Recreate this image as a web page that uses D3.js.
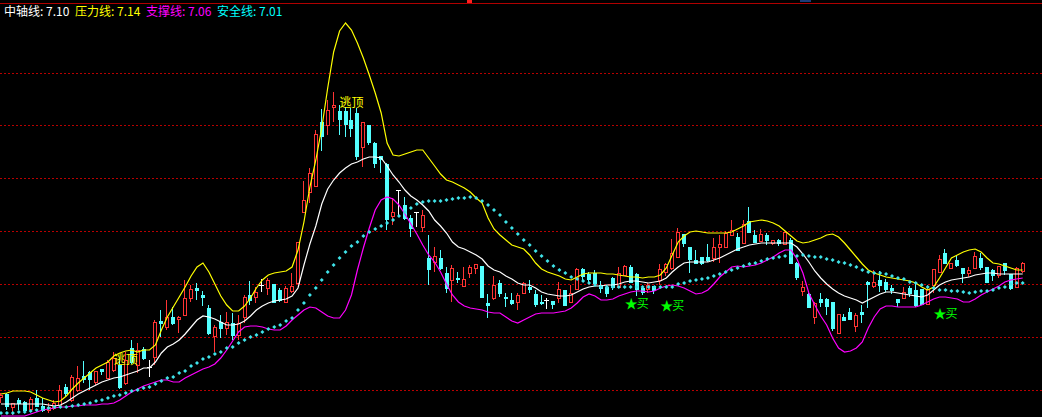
<!DOCTYPE html>
<html><head><meta charset="utf-8">
<script src="https://cdn.jsdelivr.net/npm/d3@7"></script>
<style>html,body{margin:0;padding:0;background:#000;overflow:hidden}</style>
</head><body><svg id="c" width="1042" height="417"></svg>
<script>
// ---------- data (prices) ----------
const open = [
5.87,5.90,5.77,5.84,5.82,5.75,5.86,5.78,5.74,5.76,
5.79,5.97,5.84,5.94,6.08,6.12,6.02,6.15,6.06,6.14,
6.19,6.01,6.36,6.19,6.35,6.17,6.27,6.63,6.57,6.67,
6.65,6.69,6.86,6.96,6.89,6.76,6.48,6.62,6.56,6.61,
6.49,6.67,6.89,6.87,6.99,6.96,7.00,6.94,6.82,6.93,
7.01,7.72,7.92,7.98,8.62,8.59,8.77,8.73,8.73,8.64,
8.71,8.37,8.59,8.41,8.28,8.20,7.68,7.94,7.79,7.66,
7.72,7.57,7.26,7.22,7.26,7.11,7.04,7.06,6.98,7.11,
7.16,7.18,6.81,6.86,7.01,6.87,6.84,6.82,6.91,6.97,
6.90,6.82,6.84,6.83,6.86,6.94,6.82,6.95,7.15,7.10,
7.11,6.99,6.97,7.06,6.97,7.09,7.17,7.10,6.96,6.95,
6.98,7.04,7.12,7.16,7.27,7.50,7.37,7.24,7.27,7.27,
7.26,7.37,7.37,7.49,7.47,7.41,7.63,7.49,7.43,7.49,
7.41,7.44,7.40,7.44,7.21,6.93,6.90,6.67,6.85,6.85,
6.82,6.51,6.67,6.72,6.58,6.72,7.02,6.98,7.04,7.02,
6.96,6.85,6.86,6.96,6.94,6.95,6.80,6.99,7.12,7.31,
7.16,7.24,7.16,7.11,7.16,7.26,7.17,7.14,7.09,7.21,
7.10,6.97,7.13];
const high = [
5.91,5.91,5.81,5.86,5.83,5.87,5.94,5.86,5.81,5.84,
5.99,6.00,6.09,6.18,6.23,6.13,6.13,6.15,6.24,6.32,
6.27,6.32,6.44,6.41,6.37,6.24,6.64,6.74,6.84,6.77,
6.68,7.04,6.99,7.01,6.93,6.79,6.59,6.69,6.72,6.71,
6.69,6.89,7.03,6.97,7.05,7.06,7.00,6.96,6.98,7.11,
7.42,8.03,8.16,8.54,8.75,8.84,8.92,8.79,8.77,8.76,
8.76,8.62,8.59,8.42,8.28,8.21,7.86,7.94,7.87,7.69,
7.72,7.74,7.49,7.37,7.34,7.17,7.19,7.12,7.17,7.19,
7.20,7.18,6.90,7.08,7.04,6.91,6.91,6.91,7.02,7.04,
6.94,6.89,6.86,6.83,7.02,6.94,6.99,7.16,7.16,7.12,
7.14,7.03,6.99,7.07,7.17,7.19,7.19,7.11,6.98,7.01,
6.98,7.20,7.21,7.45,7.56,7.50,7.37,7.34,7.27,7.40,
7.46,7.49,7.53,7.64,7.51,7.64,7.77,7.54,7.55,7.51,
7.44,7.45,7.52,7.46,7.22,7.03,6.91,6.82,6.91,6.86,
6.82,6.70,6.70,6.76,6.71,6.79,7.03,7.14,7.13,7.05,
6.99,6.85,6.97,6.98,7.02,6.95,6.99,7.15,7.29,7.35,
7.21,7.28,7.16,7.17,7.32,7.31,7.17,7.15,7.18,7.21,
7.10,7.17,7.22];
const low = [
5.81,5.74,5.69,5.74,5.71,5.74,5.77,5.72,5.71,5.74,
5.78,5.87,5.82,5.92,6.01,5.94,5.99,6.09,6.06,6.12,
5.95,5.99,6.20,6.11,6.24,6.07,6.19,6.47,6.54,6.59,
6.51,6.68,6.82,6.84,6.78,6.49,6.32,6.46,6.49,6.44,
6.44,6.61,6.79,6.81,6.92,6.89,6.81,6.82,6.81,6.91,
7.00,7.71,7.81,7.97,8.33,8.49,8.62,8.49,8.47,8.47,
8.24,8.17,8.39,8.16,8.11,7.54,7.59,7.67,7.64,7.47,
7.57,7.52,6.99,7.12,7.14,6.91,6.82,7.01,6.97,7.06,
7.10,6.86,6.66,6.84,6.87,6.77,6.79,6.74,6.91,6.91,
6.77,6.79,6.75,6.75,6.81,6.78,6.81,6.94,7.02,7.01,
6.99,6.91,6.87,6.94,6.96,7.08,7.01,6.88,6.89,6.91,
6.90,6.99,7.08,7.14,7.26,7.37,7.11,7.21,7.19,7.22,
7.22,7.21,7.36,7.48,7.33,7.41,7.51,7.41,7.42,7.39,
7.39,7.38,7.39,7.20,7.04,6.88,6.77,6.60,6.77,6.69,
6.53,6.50,6.64,6.65,6.52,6.61,6.76,6.96,6.92,6.92,
6.90,6.77,6.85,6.87,6.77,6.79,6.79,6.91,7.11,7.20,
7.16,7.17,7.01,7.07,7.16,7.14,7.01,7.03,7.06,7.09,
6.94,6.97,7.11];
const close = [
5.89,5.78,5.81,5.81,5.74,5.85,5.78,5.74,5.77,5.81,
5.94,5.91,6.07,6.06,6.05,6.05,6.13,6.13,6.22,6.26,
5.97,6.24,6.22,6.34,6.26,6.17,6.62,6.61,6.67,6.61,
6.67,6.86,6.95,6.94,6.87,6.51,6.57,6.56,6.62,6.49,
6.61,6.87,6.84,6.92,6.99,7.04,6.82,6.84,6.96,6.98,
7.42,7.84,8.11,8.50,8.48,8.74,8.79,8.65,8.60,8.56,
8.28,8.62,8.42,8.21,8.25,7.65,7.72,7.94,7.66,7.56,
7.72,7.69,7.15,7.28,7.16,6.96,7.16,7.05,7.05,7.17,
7.20,6.87,6.79,6.99,6.91,6.86,6.81,6.89,7.01,6.95,
6.80,6.81,6.84,6.80,6.95,6.79,6.91,7.15,7.08,7.05,
7.01,6.96,6.91,6.97,7.11,7.18,7.02,6.95,6.92,6.99,
6.94,7.15,7.20,7.31,7.52,7.41,7.25,7.21,7.21,7.24,
7.37,7.40,7.51,7.54,7.34,7.60,7.52,7.42,7.50,7.44,
7.44,7.41,7.52,7.21,7.07,6.97,6.77,6.81,6.82,6.78,
6.56,6.70,6.64,6.65,6.69,6.70,7.00,7.02,6.99,6.95,
6.94,6.82,6.92,6.91,6.79,6.80,6.95,7.15,7.25,7.21,
7.21,7.19,7.11,7.14,7.28,7.17,7.02,7.09,7.18,7.14,
6.96,7.16,7.21];

// 中轴线 (white)
const midLine = [
5.80,5.80,5.80,5.80,5.80,5.80,5.80,5.80,5.79,5.78,
5.79,5.82,5.86,5.90,5.93,5.96,5.99,6.02,6.04,6.06,
6.07,6.09,6.11,6.13,6.16,6.16,6.22,6.31,6.37,6.40,
6.44,6.50,6.57,6.64,6.68,6.67,6.65,6.62,6.59,6.59,
6.60,6.63,6.68,6.74,6.78,6.81,6.83,6.84,6.85,6.88,
6.96,7.19,7.40,7.58,7.80,7.95,8.04,8.11,8.16,8.20,
8.22,8.25,8.27,8.27,8.26,8.18,8.09,8.02,7.94,7.88,
7.84,7.79,7.73,7.64,7.58,7.51,7.42,7.37,7.35,7.32,
7.29,7.25,7.18,7.14,7.12,7.08,7.05,7.01,6.99,6.99,
6.96,6.92,6.90,6.89,6.88,6.88,6.89,6.92,6.95,6.97,
6.98,6.98,6.99,6.99,7.00,7.02,7.03,7.03,7.02,7.01,
7.02,7.03,7.06,7.12,7.17,7.21,7.22,7.22,7.22,7.22,
7.24,7.26,7.29,7.32,7.35,7.37,7.39,7.40,7.41,7.41,
7.41,7.41,7.41,7.41,7.37,7.30,7.22,7.13,7.06,7.00,
6.95,6.91,6.88,6.86,6.84,6.81,6.84,6.87,6.90,6.92,
6.92,6.91,6.90,6.89,6.88,6.87,6.89,6.94,6.99,7.02,
7.04,7.05,7.06,7.07,7.09,7.10,7.11,7.11,7.10,7.10,
7.10,7.10,7.10];
// 压力线 (yellow)
const pressureLine = [
5.90,5.91,5.93,5.93,5.93,5.92,5.89,5.86,5.84,5.82,
5.83,5.88,5.95,6.01,6.06,6.11,6.16,6.19,6.22,6.28,
6.31,6.33,6.34,6.32,6.34,6.34,6.39,6.54,6.67,6.77,
6.87,6.97,7.08,7.17,7.21,7.12,7.00,6.88,6.79,6.73,
6.73,6.78,6.86,6.96,7.04,7.09,7.11,7.12,7.13,7.17,
7.34,7.62,7.97,8.24,8.56,8.96,9.32,9.53,9.61,9.54,
9.41,9.26,9.09,8.91,8.71,8.41,8.29,8.28,8.30,8.32,
8.34,8.34,8.26,8.18,8.10,8.04,8.02,7.99,7.96,7.92,
7.86,7.81,7.66,7.55,7.49,7.44,7.39,7.37,7.35,7.29,
7.21,7.15,7.12,7.10,7.08,7.05,7.04,7.07,7.10,7.11,
7.11,7.11,7.10,7.10,7.09,7.08,7.07,7.07,7.06,7.07,
7.07,7.09,7.16,7.29,7.42,7.48,7.52,7.53,7.52,7.51,
7.51,7.51,7.51,7.52,7.55,7.58,7.62,7.63,7.64,7.63,
7.61,7.58,7.53,7.48,7.43,7.41,7.42,7.44,7.46,7.49,
7.50,7.47,7.41,7.34,7.27,7.20,7.14,7.11,7.09,7.07,
7.06,7.05,7.04,7.03,7.01,6.97,6.94,6.97,7.06,7.16,
7.26,7.29,7.32,7.34,7.35,7.32,7.26,7.21,7.20,7.18,
7.16,7.14,7.14];
// 支撑线 (magenta)
const supportLine = [
5.68,5.68,5.68,5.68,5.68,5.70,5.72,5.74,5.75,5.76,
5.77,5.77,5.78,5.78,5.79,5.79,5.79,5.80,5.80,5.81,
5.84,5.88,5.92,5.95,5.98,6.00,6.02,6.04,6.04,6.02,
6.02,6.06,6.09,6.12,6.15,6.17,6.20,6.26,6.34,6.43,
6.52,6.57,6.58,6.58,6.57,6.55,6.54,6.54,6.58,6.64,
6.69,6.74,6.77,6.76,6.72,6.68,6.66,6.66,6.74,6.89,
7.14,7.36,7.56,7.74,7.84,7.87,7.85,7.79,7.70,7.60,
7.50,7.39,7.29,7.22,7.12,7.00,6.89,6.82,6.78,6.76,
6.75,6.74,6.72,6.71,6.71,6.67,6.63,6.61,6.64,6.67,
6.70,6.71,6.71,6.71,6.72,6.73,6.76,6.81,6.87,6.90,
6.88,6.84,6.84,6.85,6.88,6.90,6.92,6.93,6.93,6.92,
6.93,6.96,6.98,6.99,6.98,6.96,6.93,6.90,6.91,6.94,
7.00,7.07,7.12,7.17,7.18,7.17,7.18,7.19,7.21,7.24,
7.27,7.31,7.34,7.34,7.25,7.11,6.91,6.79,6.68,6.59,
6.46,6.36,6.32,6.33,6.36,6.42,6.56,6.67,6.75,6.78,
6.78,6.77,6.77,6.77,6.77,6.79,6.82,6.85,6.87,6.87,
6.86,6.85,6.82,6.82,6.85,6.89,6.92,6.95,6.98,7.02,
7.04,7.05,7.06];
// 安全线 (cyan dots)
const safetyLine = [
5.71,5.71,5.71,5.72,5.72,5.73,5.74,5.75,5.76,5.77,
5.77,5.77,5.78,5.79,5.80,5.81,5.83,5.84,5.86,5.88,
5.89,5.91,5.93,5.94,5.96,5.97,6.00,6.03,6.06,6.07,
6.11,6.13,6.18,6.21,6.25,6.27,6.30,6.32,6.36,6.37,
6.41,6.44,6.47,6.49,6.52,6.55,6.57,6.59,6.63,6.66,
6.74,6.81,6.89,6.96,7.04,7.12,7.19,7.26,7.32,7.38,
7.42,7.48,7.52,7.55,7.58,7.61,7.64,7.68,7.72,7.76,
7.80,7.82,7.83,7.83,7.83,7.84,7.85,7.86,7.86,7.87,
7.86,7.83,7.79,7.74,7.69,7.62,7.56,7.50,7.44,7.39,
7.33,7.28,7.23,7.18,7.14,7.11,7.07,7.05,7.03,7.01,
6.99,6.97,6.97,6.97,6.97,6.97,6.97,6.97,6.97,6.97,
6.97,6.97,6.97,6.97,7.00,7.01,7.03,7.04,7.05,7.06,
7.08,7.10,7.12,7.14,7.16,7.18,7.20,7.21,7.23,7.25,
7.26,7.27,7.28,7.28,7.28,7.29,7.28,7.27,7.27,7.25,
7.24,7.22,7.21,7.19,7.17,7.14,7.12,7.11,7.11,7.10,
7.08,7.06,7.05,7.02,7.01,6.99,6.97,6.96,6.94,6.94,
6.93,6.93,6.92,6.91,6.92,6.93,6.93,6.94,6.96,6.97,
7.00,7.01,7.01];

const gridLevels = [5.935, 6.465, 6.995, 7.525, 8.055, 8.585, 9.11];
const legendNames = ["中轴线", "压力线", "支撑线", "安全线"];
const legendColors = ["#ffffff", "#ffff00", "#ff00ff", "#00ffff"];
const topSignals = [{i: 19, p: 6.20, text: "逃顶"}, {i: 57, p: 8.77, text: "逃顶"}];
const buySignals = [{i: 105, p: 6.76}, {i: 111, p: 6.74}, {i: 157, p: 6.66}];

// ---------- drawing ----------
const W = 1042, H = 417;
const N = open.length;
const svg = d3.select("#c");
svg.append("rect").attr("width", W).attr("height", H).attr("fill", "#000");

const x = d3.scaleLinear().domain([0, N - 1]).range([1, 1022.7]);
const y = d3.scaleLinear().domain([5.67, 9.84]).range([H, 0]);

// grid
const g = svg.append("g").attr("shape-rendering", "crispEdges");
g.selectAll("line.grid").data(gridLevels).join("line")
  .attr("class", "grid")
  .attr("x1", 0).attr("x2", W)
  .attr("y1", d => Math.floor(y(d)) + 0.5).attr("y2", d => Math.floor(y(d)) + 0.5)
  .attr("stroke", "#b80000").attr("stroke-width", 1).attr("stroke-dasharray", "2,2");
// top frame line
g.append("line").attr("x1", 0).attr("x2", W).attr("y1", 3.5).attr("y2", 3.5)
  .attr("stroke", "#b00000").attr("stroke-width", 1);
g.append("rect").attr("x", 467).attr("y", 0).attr("width", 5).attr("height", 3).attr("fill", "#ff2020");
g.append("rect").attr("x", 800).attr("y", 0).attr("width", 11).attr("height", 2).attr("fill", "#1c3c78");

// candles
const cg = svg.append("g").attr("shape-rendering", "crispEdges");
const idx = d3.range(N);
const RED = "#ff3434", CYAN = "#54ffff";
idx.forEach(i => {
  const cx = Math.round(x(i));
  const o = open[i], c = close[i];
  const col = c > o ? RED : (c < o ? CYAN : "#ffffff");
  cg.append("line").attr("x1", cx - 0.5).attr("x2", cx - 0.5)
    .attr("y1", y(high[i])).attr("y2", y(low[i])).attr("stroke", col);
  if (c > o) {
    const t = Math.round(y(c)), b = Math.round(y(o));
    cg.append("rect").attr("x", cx - 1.5).attr("y", t + 0.5)
      .attr("width", 3).attr("height", Math.max(1, b - t))
      .attr("fill", "#000").attr("stroke", RED);
  } else if (c < o) {
    const t = Math.round(y(o)), b = Math.round(y(c));
    cg.append("rect").attr("x", cx - 2).attr("y", t)
      .attr("width", 4).attr("height", Math.max(1, b - t + 1))
      .attr("fill", CYAN);
  } else {
    const t = Math.round(y(o)) + 0.5;
    cg.append("line").attr("x1", cx - 3).attr("x2", cx + 2)
      .attr("y1", t).attr("y2", t).attr("stroke", "#ffffff");
  }
});

// indicator lines
const lineGen = arr => d3.line().x((d, i) => x(i)).y(d => y(d))(arr);
svg.append("path").attr("d", lineGen(pressureLine)).attr("fill", "none").attr("stroke", "#ffff00").attr("stroke-width", 1.2);
svg.append("path").attr("d", lineGen(midLine)).attr("fill", "none").attr("stroke", "#ffffff").attr("stroke-width", 1.2);
svg.append("path").attr("d", lineGen(supportLine)).attr("fill", "none").attr("stroke", "#ff00ff").attr("stroke-width", 1.2);
svg.append("g").selectAll("path").data(safetyLine).join("path")
  .attr("d", (d, i) => {
    const px = x(i), py = y(d);
    return `M${px},${py - 2}L${px + 2},${py}L${px},${py + 2}L${px - 2},${py}Z`;
  })
  .attr("fill", "#3fe4ea");

// signals
const fontCJK = "'Noto Sans CJK SC','Noto Sans',sans-serif";
svg.append("g").selectAll("text").data(topSignals).join("text")
  .attr("x", d => x(d.i)).attr("y", d => y(d.p))
  .attr("fill", "#ffff00").attr("font-family", fontCJK).attr("font-size", 12)
  .text(d => d.text);
const bg = svg.append("g").selectAll("g").data(buySignals).join("g")
  .attr("transform", d => `translate(${x(d.i)},${y(d.p)})`);
bg.append("text").attr("x", 0).attr("y", 0).attr("fill", "#00ff00")
  .attr("font-family", fontCJK).attr("font-size", 13).text("★");
bg.append("text").attr("x", 12).attr("y", 0).attr("fill", "#00ff00")
  .attr("font-family", fontCJK).attr("font-size", 12).text("买");

// legend
const lastVals = [midLine[N - 1], pressureLine[N - 1], supportLine[N - 1], safetyLine[N - 1]];
const legendX = [4, 75, 146, 217];
svg.append("g").selectAll("text").data(legendNames).join("text")
  .attr("x", (d, i) => legendX[i]).attr("y", 16)
  .attr("fill", (d, i) => legendColors[i])
  .attr("font-family", fontCJK).attr("font-size", 12)
  .text((d, i) => `${d}: ${lastVals[i].toFixed(2)}`);
</script>
</body></html>
